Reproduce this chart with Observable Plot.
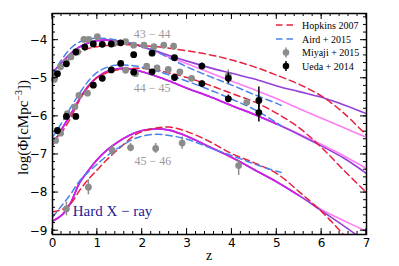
<!DOCTYPE html>
<html><head><meta charset="utf-8">
<script src="https://cdn.jsdelivr.net/npm/d3@7"></script>
<script src="https://cdn.jsdelivr.net/npm/@observablehq/plot@0.6"></script>
<style>
body{margin:0;background:#fff;}
#wrap{position:relative;width:399px;height:266px;}
</style></head><body><div id="wrap"></div>
<script>
// ---------- data ----------
const xTicks = [0,1,2,3,4,5,6,7];
const yTicks = [-9,-8,-7,-6,-5,-4];

// model grid (redshift)
const gridZ = [0,0.2,0.4,0.6,0.8,1.0,1.2,1.4,1.6,1.8,2.0,2.3,2.6,3.0,3.5,4.0,4.5,5.0,5.5,6.0,6.5,7.0];
const airdZ = [0,0.2,0.4,0.6,0.8,1.0,1.2,1.4,1.6,1.8,2.0,2.3,2.6,3.0,3.5,4.0,4.5,5.0,5.1];

const hopkins4344 = [-4.95,-4.7,-4.48,-4.32,-4.22,-4.17,-4.14,-4.12,-4.12,-4.12,-4.14,-4.17,-4.21,-4.28,-4.38,-4.52,-4.7,-4.92,-5.16,-5.47,-5.92,-6.5];
const hopkins4445 = [-6.65,-6.42,-6.05,-5.58,-5.22,-4.98,-4.86,-4.79,-4.76,-4.74,-4.74,-4.78,-4.86,-4.98,-5.18,-5.4,-5.62,-5.92,-6.3,-6.82,-7.42,-8.0];
const hopkins4546 = [-8.5,-8.45,-8.3,-7.95,-7.65,-7.4,-7.15,-6.93,-6.72,-6.52,-6.4,-6.31,-6.28,-6.4,-6.66,-6.98,-7.22,-7.5,-7.98,-8.5,-9.12,-9.8];

const aird4344 = [-4.9,-4.52,-4.22,-4.05,-3.97,-3.95,-3.96,-3.99,-4.03,-4.09,-4.16,-4.29,-4.47,-4.7,-4.95,-5.18,-5.43,-5.66,-5.71];
const aird4445 = [-6.55,-6.18,-5.78,-5.4,-5.07,-4.84,-4.72,-4.66,-4.65,-4.67,-4.71,-4.8,-4.91,-5.08,-5.3,-5.55,-5.82,-6.17,-6.25];
const aird4546 = [-8.65,-8.35,-8.05,-7.7,-7.46,-7.25,-7.05,-6.88,-6.73,-6.6,-6.52,-6.47,-6.5,-6.6,-6.82,-7.03,-7.25,-7.44,-7.47];

const purple4344 = [-4.85,-4.6,-4.36,-4.18,-4.07,-4.01,-4.0,-4.01,-4.05,-4.1,-4.17,-4.28,-4.4,-4.55,-4.72,-4.87,-5.02,-5.2,-5.35,-5.5,-5.7,-5.93];
const pink4344   = [-4.85,-4.6,-4.36,-4.18,-4.07,-4.01,-4.0,-4.01,-4.05,-4.1,-4.17,-4.3,-4.44,-4.62,-4.85,-5.08,-5.3,-5.54,-5.8,-6.05,-6.3,-6.55];
const purple4445 = [-6.75,-6.35,-5.95,-5.55,-5.2,-4.97,-4.83,-4.76,-4.74,-4.77,-4.83,-4.94,-5.07,-5.26,-5.48,-5.72,-5.95,-6.2,-6.48,-6.78,-7.1,-7.5];
const pink4445   = [-6.75,-6.35,-5.95,-5.55,-5.2,-4.97,-4.83,-4.76,-4.74,-4.77,-4.83,-4.94,-5.07,-5.26,-5.48,-5.72,-5.95,-6.2,-6.46,-6.74,-7.04,-7.37];
const purple4546 = [-8.75,-8.6,-8.28,-7.75,-7.42,-7.13,-6.9,-6.72,-6.57,-6.45,-6.37,-6.33,-6.36,-6.52,-6.8,-7.08,-7.4,-7.72,-8.08,-8.48,-8.88,-9.3];
const pink4546   = [-8.75,-8.6,-8.28,-7.75,-7.42,-7.13,-6.9,-6.72,-6.57,-6.45,-6.37,-6.33,-6.36,-6.52,-6.8,-7.08,-7.4,-7.72,-8.08,-8.45,-8.74,-9.02];

// Ueda+2014 (black)
const uedaZ4344 = [0.11,0.31,0.52,0.72,0.91,1.11,1.31,1.52,1.81,2.22,2.72,3.33,3.92,4.6];
const uedaV4344 = [-4.88,-4.62,-4.31,-4.18,-4.1,-4.11,-4.1,-4.07,-4.38,-4.34,-4.46,-4.68,-5.0,-5.58];
const uedaE4344 = [0.05,0.05,0.04,0.04,0.04,0.04,0.04,0.04,0.05,0.05,0.06,0.08,0.14,0.35];
const uedaZ4445 = [0.11,0.31,0.52,0.91,1.11,1.31,1.52,1.81,2.22,2.72,3.33,3.92,4.6];
const uedaV4445 = [-6.37,-6.0,-6.0,-5.18,-5.0,-4.78,-4.61,-4.84,-4.83,-4.98,-5.14,-5.54,-5.9];
const uedaE4445 = [0.06,0.06,0.06,0.05,0.05,0.05,0.05,0.05,0.05,0.06,0.07,0.1,0.25];

// Miyaji+2015 (grey)
const miyZ4344 = [0.04,0.18,0.3,0.41,0.56,0.7,0.81,1.0,1.37,1.63,1.81,2.04,2.26,2.48,2.7,3.92];
const miyV4344 = [-5.03,-4.7,-4.58,-4.44,-4.31,-3.98,-3.98,-3.91,-4.09,-4.04,-4.13,-4.13,-4.17,-4.13,-4.16,-4.93];
const miyE4344 = [0.04,0.04,0.04,0.04,0.04,0.04,0.04,0.04,0.04,0.04,0.04,0.04,0.04,0.05,0.08,0.15];
const miyZ4445 = [0.07,0.18,0.33,0.5,0.59,0.78,1.63,1.85,2.1,2.33,2.58,2.84,3.1,4.33];
const miyV4445 = [-6.63,-6.44,-5.93,-5.75,-5.45,-5.39,-4.79,-4.88,-4.68,-4.73,-4.77,-4.83,-5.0,-5.63];
const miyE4445 = [0.06,0.05,0.05,0.05,0.05,0.05,0.04,0.04,0.04,0.04,0.04,0.05,0.05,0.08];
const miyZ4546 = [0.31,0.8,1.33,1.74,2.3,2.89,4.15];
const miyV4546 = [-8.43,-7.86,-6.89,-6.82,-6.84,-6.7,-7.29];
const miyElo4546 = [0.18,0.2,0.13,0.11,0.13,0.16,0.26];
const miyEhi4546 = [0.18,0.2,0.13,0.11,0.13,0.16,0.13];

// annotations
const binLabels = ["43 − 44","44 − 45","45 − 46"];
const binLabelZ = [2.22,2.22,2.24];
const binLabelV = [-3.84,-5.27,-7.18];
const bandLabel = "Hard X − ray";
const legendLabels = ["Hopkins 2007","Aird + 2015","Miyaji + 2015","Ueda + 2014"];

// colours
const cRed = "#e8203f", cBlue = "#4a82ea", cPurple = "#9440d8", cMag = "#cc22e6", cPink = "#ff7ef3", cGrey = "#8c8c8c";

// ---------- build tables ----------
const toRows = (zs, vs) => zs.map((z,i)=>({z, v: vs[i]}));
function sharedPrefix(zs, a, b){ const out=[]; for(let i=0;i<zs.length;i++){ if(a[i]!==b[i]) break; out.push({z:zs[i], v:a[i]}); } return out; }
const errRows = (zs, vs, lo, hi) => zs.map((z,i)=>({z, v:vs[i], lo: vs[i]-lo[i], hi: vs[i]+(hi?hi[i]:lo[i])}));

const hop = [hopkins4344,hopkins4445,hopkins4546].map(v=>toRows(gridZ,v));
const aird = [aird4344,aird4445,aird4546].map(v=>toRows(airdZ,v));
const purples = [purple4344,purple4445,purple4546].map(v=>toRows(gridZ,v));
const pinks = [pink4344,pink4445,pink4546].map(v=>toRows(gridZ,v));
const mags = [[purple4344,pink4344],[purple4445,pink4445],[purple4546,pink4546]].map(([a,b])=>sharedPrefix(gridZ,a,b));

const ueda = [...errRows(uedaZ4344,uedaV4344,uedaE4344), ...errRows(uedaZ4445,uedaV4445,uedaE4445)];
const miy = [...errRows(miyZ4344,miyV4344,miyE4344), ...errRows(miyZ4445,miyV4445,miyE4445), ...errRows(miyZ4546,miyV4546,miyElo4546,miyEhi4546)];
const labelsRows = binLabels.map((t,i)=>({t, z: binLabelZ[i], v: binLabelV[i]}));

const fmt = d => d < 0 ? "\u2212" + Math.abs(d) : String(d);
const curve = "catmull-rom";
const lineOpts = (stroke, w, dash) => ({x:"z", y:"v", stroke, strokeWidth:w, curve, clip:true, strokeDasharray: dash});

const marks = [];
pinks.forEach(d => marks.push(Plot.line(d, lineOpts(cPink,1.6))));
purples.forEach(d => marks.push(Plot.line(d, lineOpts(cPurple,1.6))));
mags.forEach(d => marks.push(Plot.line(d, lineOpts(cMag,1.7))));
hop.forEach(d => marks.push(Plot.line(d, lineOpts(cRed,1.5,"6.5,4"))));
aird.forEach(d => marks.push(Plot.line(d, lineOpts(cBlue,1.5,"6.5,4"))));
marks.push(Plot.ruleX(miy, {x:"z", y1:"lo", y2:"hi", stroke:cGrey, strokeWidth:1.5}));
marks.push(Plot.dot(miy, {x:"z", y:"v", r:3.4, fill:cGrey}));
marks.push(Plot.ruleX(ueda, {x:"z", y1:"lo", y2:"hi", stroke:"black", strokeWidth:1.5}));
marks.push(Plot.dot(ueda, {x:"z", y:"v", r:3.4, fill:"black"}));
marks.push(Plot.text(labelsRows, {x:"z", y:"v", text:"t", fill:"#999", fontSize:12, fontFamily:"Liberation Serif", textAnchor:"middle"}));
marks.push(Plot.text([bandLabel], {x:0.45, y:-8.5, text:d=>d, fill:"#1c1c96", fontSize:15, fontFamily:"Liberation Serif", textAnchor:"start"}));
marks.push(Plot.frame({stroke:"black", strokeWidth:1.5}));

const W=399, H=266;
const chart = Plot.plot({
  width: W, height: H,
  marginLeft: 52, marginRight: 33, marginTop: 13, marginBottom: 32,
  style: {fontFamily:"DejaVu Sans", fontSize:"12px", color:"black", background:"white", overflow:"visible"},
  x: {domain:[0,7], ticks:xTicks, tickSize:0, tickPadding:4, tickFormat:fmt, label:null},
  y: {domain:[-9.1,-3.3], ticks:yTicks, tickSize:0, tickPadding:5, tickFormat:fmt, label:null},
  marks
});
document.getElementById("wrap").appendChild(chart);

// ---------- inward ticks, axis titles, legend ----------
const svg = d3.select(chart);
const xs = chart.scale("x"), ys = chart.scale("y");
const sx = d3.scaleLinear().domain(xs.domain).range(xs.range);
const sy = d3.scaleLinear().domain(ys.domain).range(ys.range);
const [x0,x1] = xs.range, [y0,y1] = ys.range; // y0 bottom, y1 top
const g = svg.append("g").attr("stroke","black").attr("stroke-width",1);
const xMinor = d3.range(0,7.001,0.2), yMinor = d3.range(-9,-3.3,0.2);
function tickX(v, len){ const X=sx(v); g.append("line").attr("x1",X).attr("x2",X).attr("y1",y0).attr("y2",y0-len); g.append("line").attr("x1",X).attr("x2",X).attr("y1",y1).attr("y2",y1+len); }
function tickY(v, len){ const Y=sy(v); g.append("line").attr("y1",Y).attr("y2",Y).attr("x1",x0).attr("x2",x0+len); g.append("line").attr("y1",Y).attr("y2",Y).attr("x1",x1).attr("x2",x1-len); }
xMinor.forEach(v=>tickX(v,3)); xTicks.forEach(v=>tickX(v,6));
yMinor.forEach(v=>tickY(v,3)); yTicks.forEach(v=>tickY(v,6));

svg.append("text").attr("x",(x0+x1)/2).attr("y",260).attr("text-anchor","middle")
  .attr("font-family","Liberation Serif").attr("font-size",14).text("z");
const yl = svg.append("text").attr("transform",`translate(28,${(y0+y1)/2 + 4}) rotate(-90)`)
  .attr("text-anchor","middle").attr("font-family","Liberation Serif").attr("font-size",15);
yl.append("tspan").text("log(Φ[cMpc");
yl.append("tspan").attr("font-size",10).attr("dy",-6).text("−3");
yl.append("tspan").attr("dy",6).text("])");

// legend
const lg = svg.append("g").attr("font-family","Liberation Serif").attr("font-size",10).attr("text-anchor","start");
const rows = [25,39,52.5,66];
const lx = 276;
[cRed, cBlue].forEach((c,i)=>{
  lg.append("line").attr("x1",lx).attr("x2",lx+20).attr("y1",rows[i]).attr("y2",rows[i]).attr("stroke",c).attr("stroke-width",1.5).attr("stroke-dasharray","6.5,4");
});
[cGrey, "black"].forEach((c,j)=>{
  const i=j+2, cx=lx+10;
  lg.append("line").attr("x1",cx).attr("x2",cx).attr("y1",rows[i]-5).attr("y2",rows[i]+5).attr("stroke",c).attr("stroke-width",1.5);
  lg.append("circle").attr("cx",cx).attr("cy",rows[i]).attr("r",3.3).attr("fill",c);
});
legendLabels.forEach((t,i)=>lg.append("text").attr("x",302).attr("y",rows[i]+3.5).attr("text-anchor","start").text(t));
</script></body></html>
